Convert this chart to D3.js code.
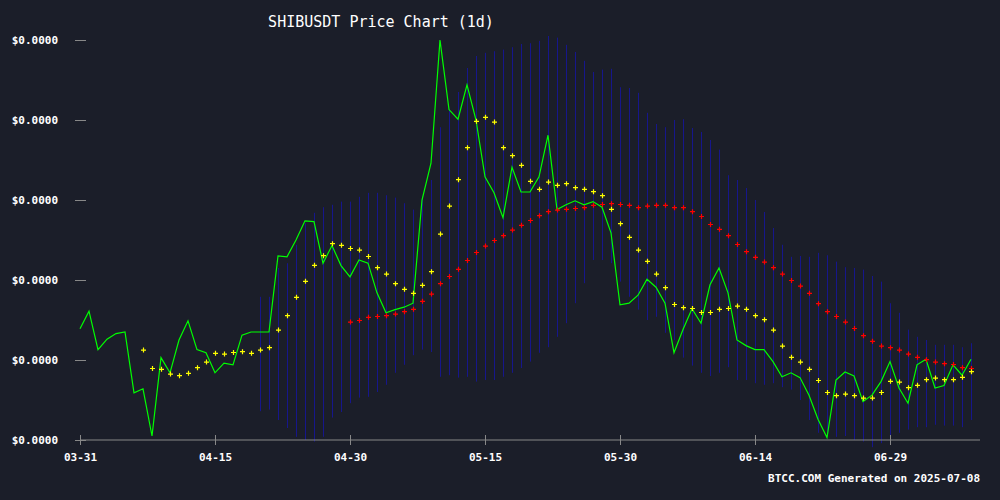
<!DOCTYPE html>
<html>
<head>
<meta charset="utf-8">
<script src="https://cdn.jsdelivr.net/npm/d3@7"></script>
<style>
  body { margin: 0; background: #1b1e29; }
  text { font-family: "DejaVu Sans Mono", monospace; }
</style>
</head>
<body>
<script>
// prices in micro-USDT (x 1e-6)
var start = new Date(2025, 2, 31);

var close = [12.39,12.61,12.13,12.26,12.33,12.35,11.59,11.64,11.05,12.03,
  11.84,12.25,12.49,12.13,12.09,11.84,11.96,11.94,12.31,12.35,
  12.35,12.35,13.30,13.29,13.50,13.74,13.73,13.21,13.43,13.18,
  13.04,13.25,13.21,12.84,12.59,12.63,12.66,12.71,14.00,14.46,
  16.00,15.13,15.01,15.44,15.00,14.29,14.09,13.78,14.41,14.10,
  14.10,14.29,14.81,13.88,13.94,13.99,13.94,13.98,13.91,13.59,
  12.69,12.71,12.81,13.01,12.91,12.71,12.09,12.38,12.64,12.46,
  12.94,13.15,12.84,12.25,12.18,12.13,12.13,11.98,11.79,11.84,
  11.78,11.56,11.26,11.03,11.75,11.85,11.80,11.48,11.56,11.73,
  11.98,11.65,11.46,11.94,12.01,11.65,11.68,11.94,11.81,12.01];

var maShortStart = 7;
var maShort = [12.13,11.90,11.89,11.83,11.81,11.84,11.91,11.98,12.09,12.08,
  12.10,12.11,12.09,12.13,12.16,12.38,12.56,12.79,12.99,13.19,
  13.31,13.46,13.44,13.40,13.38,13.30,13.16,13.08,12.96,12.89,
  12.84,12.94,13.11,13.58,13.93,14.26,14.66,14.99,15.04,14.98,
  14.66,14.56,14.44,14.24,14.14,14.23,14.19,14.21,14.16,14.14,
  14.11,14.06,13.89,13.71,13.54,13.38,13.24,13.08,12.91,12.70,
  12.66,12.65,12.60,12.60,12.64,12.65,12.68,12.64,12.56,12.51,
  12.38,12.18,12.04,11.98,11.89,11.75,11.60,11.56,11.58,11.56,
  11.53,11.53,11.60,11.74,11.73,11.66,11.69,11.76,11.78,11.76,
  11.76,11.79,11.86];

var maLongStart = 30;
var maLong = [12.48,12.50,12.54,12.55,12.56,12.58,12.61,12.64,12.74,12.83,
  12.96,13.05,13.14,13.25,13.35,13.43,13.50,13.56,13.63,13.69,
  13.75,13.81,13.86,13.88,13.89,13.90,13.91,13.94,13.95,13.96,
  13.95,13.94,13.91,13.93,13.94,13.94,13.91,13.91,13.86,13.80,
  13.70,13.64,13.56,13.45,13.36,13.29,13.23,13.16,13.08,13.00,
  12.93,12.84,12.71,12.61,12.55,12.48,12.40,12.31,12.24,12.18,
  12.16,12.13,12.08,12.04,12.01,11.98,11.96,11.95,11.91,11.90];

var bandStart = 20;
var bandUpper = [12.79,12.79,13.15,13.21,13.44,13.71,13.84,13.91,13.94,13.98,
  13.98,14.04,14.09,14.09,14.06,14.03,13.96,13.88,14.04,14.25,
  14.91,15.13,15.35,15.65,15.80,15.84,15.86,15.88,15.91,15.95,
  15.96,15.99,16.05,16.03,15.94,15.85,15.74,15.60,15.63,15.64,
  15.41,15.40,15.34,15.09,14.95,14.91,15.00,15.01,14.90,14.85,
  14.75,14.63,14.31,14.25,14.15,14.00,13.85,13.65,13.44,13.29,
  13.30,13.29,13.34,13.31,13.23,13.16,13.15,13.13,13.05,12.98,
  12.71,12.59,12.38,12.29,12.25,12.19,12.19,12.19,12.16,12.21];
var bandLower = [11.36,11.38,11.25,11.15,11.04,11.00,10.98,11.04,11.28,11.35,
  11.46,11.53,11.54,11.60,11.69,11.84,11.94,12.06,12.13,12.10,
  11.79,11.81,11.78,11.79,11.73,11.75,11.75,11.79,11.84,11.90,
  11.98,12.09,12.16,12.29,12.46,12.71,12.96,13.25,13.25,13.21,
  12.98,12.79,12.63,12.50,12.54,12.34,12.25,12.03,11.93,11.84,
  11.80,11.84,11.91,11.75,11.75,11.71,11.69,11.71,11.66,11.63,
  11.50,11.25,11.09,11.04,11.04,11.05,11.00,10.98,10.91,10.96,
  10.94,11.09,11.13,11.16,11.16,11.19,11.18,11.18,11.16,11.25];

var yTicks = [11, 12, 13, 14, 15, 16];
var xTickDays = [0, 15, 30, 45, 60, 75, 90];

function day(i) { return d3.timeDay.offset(start, i); }

var svg = d3.select("body").append("svg")
    .attr("width", 1000)
    .attr("height", 500);

var x = d3.scaleTime().domain([start, day(100)]).range([80, 980]);
var y = d3.scaleLinear().domain([11, 16]).range([440, 40]);

// bollinger bars
svg.append("g").selectAll("line")
    .data(bandUpper)
  .enter().append("line")
    .attr("x1", function(d, i) { return x(day(i + bandStart)) + 0.5; })
    .attr("x2", function(d, i) { return x(day(i + bandStart)) + 0.5; })
    .attr("y1", function(d) { return y(d); })
    .attr("y2", function(d, i) { return y(bandLower[i]); })
    .attr("stroke", "#16168c")
    .attr("stroke-width", 1);

var line = d3.line()
    .x(function(d, i) { return x(day(i)); })
    .y(function(d) { return y(d); });

svg.append("path")
    .attr("d", line(close))
    .attr("fill", "none")
    .attr("stroke", "#00ff00")
    .attr("stroke-width", 1.2);

function crosses(data, offset, color) {
  svg.append("g").selectAll("path")
      .data(data)
    .enter().append("path")
      .attr("transform", function(d, i) { return "translate(" + (x(day(i + offset)) + 0.5) + "," + (y(d) + 0.5) + ")"; })
      .attr("d", "M-2.5,0H2.5M0,-2.5V2.5")
      .attr("stroke", color)
      .attr("stroke-width", 1.2);
}
crosses(maLong, maLongStart, "#ff0000");
crosses(maShort, maShortStart, "#ffff00");

// axes
var fmt = d3.format("$.4f");
var yAxis = svg.append("g")
    .attr("transform", "translate(86,0)")
    .call(d3.axisLeft(y).tickValues(yTicks).tickSize(11).tickPadding(17)
      .tickFormat(function(d) { return fmt(d * 1e-6); }));
yAxis.select(".domain").remove();

var xAxis = svg.append("g")
    .attr("transform", "translate(0,440)")
    .call(d3.axisBottom(x).tickValues(xTickDays.map(day)).tickSize(5).tickPadding(8)
      .tickFormat(d3.timeFormat("%m-%d")));
xAxis.selectAll(".tick line").attr("y1", -5);
xAxis.select(".domain").attr("d", "M80,0H980");

svg.selectAll(".tick line, .domain").attr("stroke", "#888");
svg.selectAll(".tick text")
    .attr("fill", "#fff")
    .style("font-size", "11px")
    .style("font-weight", "bold");

svg.append("text")
    .attr("x", 381).attr("y", 27)
    .attr("text-anchor", "middle")
    .attr("fill", "#fff")
    .style("font-size", "15px")
    .text("SHIBUSDT Price Chart (1d)");

svg.append("text")
    .attr("x", 980).attr("y", 482)
    .attr("text-anchor", "end")
    .attr("fill", "#fff")
    .style("font-size", "11px")
    .style("font-weight", "bold")
    .text("BTCC.COM Generated on 2025-07-08");
</script>
</body>
</html>
